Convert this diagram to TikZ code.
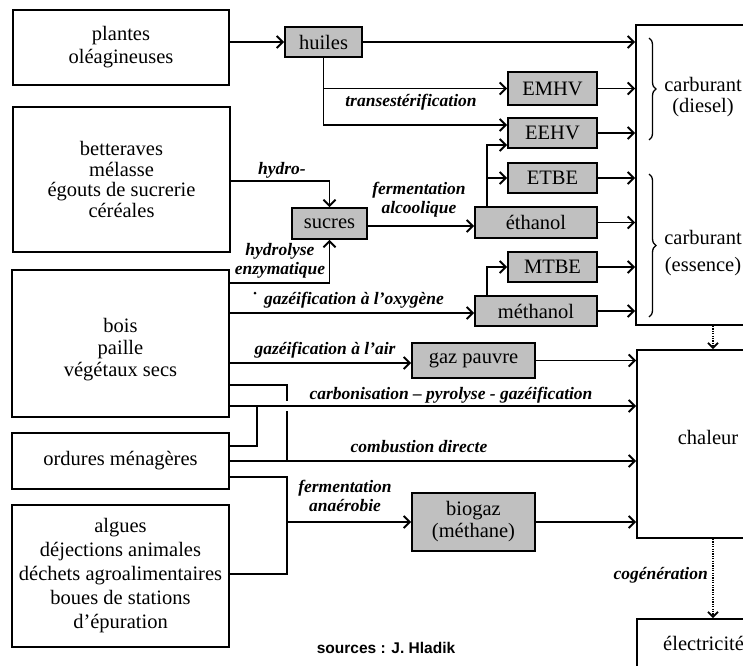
\documentclass[tikz,border=0pt]{standalone}
\usepackage{fontspec}
\setmainfont{Liberation Serif}
\newfontfamily\srcfont{Liberation Sans}
\usetikzlibrary{arrows.meta,decorations.pathreplacing}
\definecolor{boxgray}{RGB}{192,192,192}
\newcommand\mainf{\fontsize{20.5}{22}\selectfont}
\newcommand\lblf{\fontsize{17.5}{19}\selectfont\bfseries\itshape}
\begin{document}
\begin{tikzpicture}[x=1pt,y=-1pt,
  every node/.style={inner sep=0pt},
  wbox/.style={draw, line width=1.9pt, fill=white, align=center, font=\mainf},
  gbox/.style={draw, line width=1.9pt, fill=boxgray, align=center, font=\mainf},
  lbl/.style={font=\lblf, align=center},
  conn/.style={line width=1.9pt},
  arr/.style={line width=1.9pt, -{Straight Barb[length=6pt,width=12pt]}},
  dotarr/.style={line width=1.8pt, dash pattern=on 1.2pt off 1.2pt, -{Straight Barb[length=5pt,width=10pt]}},
  brc/.style={line width=1.3pt, decorate, decoration={brace, amplitude=7pt}}
]
\clip (0,0) rectangle (743,665);
\fill[white] (0,0) rectangle (743,665);

% left source boxes
\node[wbox, minimum width=216pt, minimum height=75pt, font={\fontsize{20.5}{23}\selectfont}] (plantes) at (121,47.5) {plantes\\oléagineuses};
\node[wbox, minimum width=217pt, minimum height=145pt, font={\fontsize{20.5}{20.5}\selectfont}] (bett) at (121.5,179.5) {betteraves\\mélasse\\égouts de sucrerie\\céréales};
\node[wbox, minimum width=217pt, minimum height=147pt] (bois) at (120.5,343.5) {};
\node[font={\fontsize{20.5}{22}\selectfont}, align=center] (boistxt) at (120.5,350) {bois\\paille\\végétaux secs};
\node[wbox, minimum width=217pt, minimum height=56pt] (ord) at (120.5,461) {ordures ménagères};
\node[wbox, minimum width=217pt, minimum height=142pt, font={\fontsize{20.5}{24}\selectfont}] (alg) at (120.5,576) {algues\\déjections animales\\déchets agroalimentaires\\boues de stations\\d’épuration};

% right boxes
\node[wbox, minimum width=170pt, minimum height=300pt] (carb) at (721,175) {};
\node[wbox, minimum width=170pt, minimum height=188pt] (chal) at (722,444) {};
\node[wbox, minimum width=170pt, minimum height=81pt] (elec) at (722,659.5) {};
\node[font={\fontsize{20.5}{21}\selectfont}, align=center] (tdiesel) at (703,97) {carburant\\(diesel)};
\node[font={\fontsize{20.5}{27}\selectfont}, align=center] (tessence) at (703,253) {carburant\\(essence)};
\node[font=\mainf] (tchal) at (708,437) {chaleur};
\node[font=\mainf, anchor=west] (telec) at (663,643) {électricité};
\draw[brc] (649,38) -- (649,140);
\draw[brc] (649,174) -- (649,317);

% gray product boxes
\node[gbox, minimum width=77pt, minimum height=30pt] (huiles) at (323.5,42) {huiles};
\node[gbox, minimum width=89pt, minimum height=33pt] (emhv) at (552.5,88.5) {EMHV};
\node[gbox, minimum width=89pt, minimum height=30pt] (eehv) at (552.5,133) {EEHV};
\node[gbox, minimum width=89pt, minimum height=30pt] (etbe) at (552.5,178) {ETBE};
\node[gbox, minimum width=122pt, minimum height=31pt] (ethanol) at (536,222.5) {éthanol};
\node[gbox, minimum width=89pt, minimum height=30pt] (mtbe) at (552.5,267) {MTBE};
\node[gbox, minimum width=122pt, minimum height=30pt] (methanol) at (536,311) {méthanol};
\node[gbox, minimum width=75pt, minimum height=31pt] (sucres) at (329.5,223.5) {sucres};
\node[gbox, minimum width=123pt, minimum height=35pt] (gaz) at (473.5,360.5) {gaz pauvre};
\node[gbox, minimum width=123pt, minimum height=58pt, font={\fontsize{20.5}{22}\selectfont}] (bio) at (473.5,522) {biogaz\\(méthane)};

% labels
\node[lbl] (lhydro) at (282,170) {hydro-};
\node[lbl] (lhydrol) at (280,261) {hydrolyse\\enzymatique};
\node[lbl] (ltrans) at (411,102) {transestérification};
\node[lbl] (lferm) at (419,200) {fermentation\\alcoolique};
\node[lbl] (loxy) at (354,300) {gazéification à l’oxygène};
\node[lbl] (lair) at (325,350) {gazéification à l’air};
\node[lbl] (lcarb) at (451,395) {carbonisation – pyrolyse - gazéification};
\node[lbl] (lcomb) at (419,447) {combustion directe};
\node[lbl] (lanae) at (345,496) {fermentation\\anaérobie};
\node[lbl, anchor=east] (lcogen) at (708,575) {cogénération};
\node[font={\srcfont\fontsize{15.5}{17}\selectfont\bfseries}] (src) at (386,648) {sources : J. Hladik};
\fill (255,293) circle (1.5pt);

% connectors: oils
\draw[arr] (plantes.east |- huiles) -- (huiles.west);
\draw[arr] (huiles.east) -- (huiles.east -| carb.west);
\draw[arr] (huiles.south) |- (emhv.west);
\draw[arr] (huiles.south) |- ([yshift=8pt]eehv.west);
% products to fuel box
\foreach \n in {emhv,eehv,etbe,ethanol,mtbe,methanol}
  \draw[arr] (\n.east) -- (\n.east -| carb.west);
\draw[arr] ([xshift=13pt]ethanol.north west) |- ([yshift=-12pt]eehv.west);
\draw[arr] ([xshift=13pt]ethanol.north west) |- (etbe.west);
\draw[arr] ([xshift=13pt]methanol.north west) |- (mtbe.west);
% sugars
\draw[arr] (bett.east |- 0,181) -| (sucres.north);
\draw[arr] (bois.east |- 0,283) -| (sucres.south);
\draw[arr] (sucres.east |- 0,226) -- (ethanol.west |- 0,226);
% wood
\draw[arr] (bois.east |- 0,313) -- (methanol.west |- 0,313);
\draw[arr] (bois.east |- 0,363) -- (gaz.west |- 0,363);
\draw[arr] (gaz.east) -- (gaz.east -| chal.west);
\draw[arr] (bois.east |- 0,406) -- (chal.west |- 0,406);
\draw[conn] (ord.east |- 0,446) -| (257,406);
\draw[conn] (bois.east |- 0,385) -| (287,401);
\draw[conn] (287,411) -- (287,461);
\draw[arr] (ord.east |- 0,461) -- (chal.west |- 0,461);
\draw[conn] (ord.east |- 0,477) -| (287,574) -- (alg.east |- 0,574);
\draw[arr] (287,522) -- (bio.west);
\draw[arr] (bio.east) -- (bio.east -| chal.west);
% dotted
\draw[dotarr] (carb.south -| 713,0) -- (chal.north -| 713,0);
\draw[dotarr] (chal.south -| 713,0) -- (elec.north -| 713,0);
\end{tikzpicture}
\end{document}
